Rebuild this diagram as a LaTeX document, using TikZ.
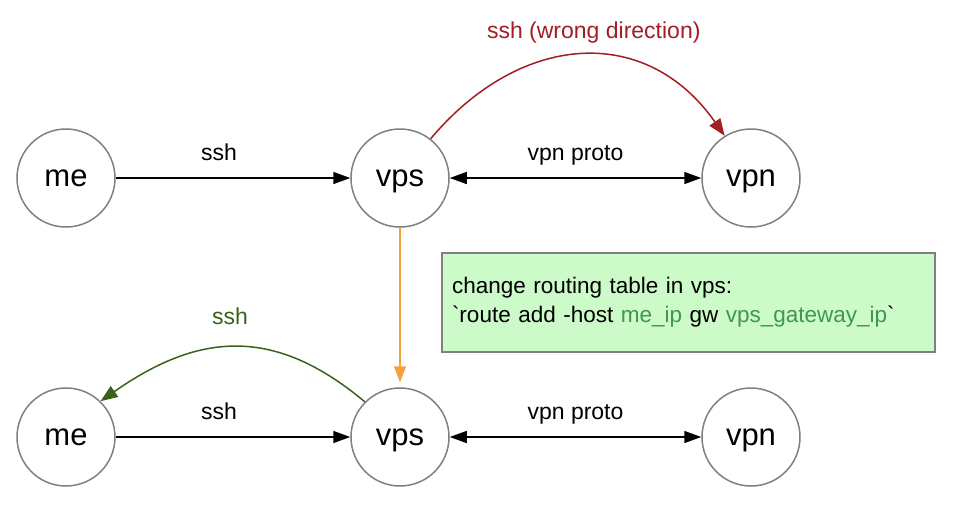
\documentclass[tikz,border=0pt]{standalone}
\usepackage{fontspec}
\setmainfont{Liberation Sans}[Ligatures=TeXOff]
\usepackage{tikz}
\usetikzlibrary{matrix,arrows.meta}
\definecolor{hostgray}{RGB}{128,128,128}
\definecolor{wrongred}{RGB}{163,29,36}
\definecolor{backgreen}{RGB}{56,99,24}
\definecolor{routeorange}{RGB}{242,162,58}
\definecolor{notefill}{RGB}{204,250,200}
\definecolor{ipgreen}{RGB}{64,150,82}
\tikzset{
	host/.style={circle,draw=hostgray,line width=1.5pt,minimum size=98pt,inner sep=0pt,
		font=\fontsize{31}{37}\selectfont,text height=16pt,text depth=0pt,anchor=center},
	lbl/.style={font=\fontsize{23}{28}\selectfont,text depth=0pt},
	tip/.style={-{Triangle[length=17pt,width=12pt]}},
	bitip/.style={{Triangle[length=17pt,width=12pt]}-{Triangle[length=17pt,width=12pt]}},
	note/.style={rectangle,draw=hostgray,line width=1.5pt,fill=notefill,minimum width=493pt,
		minimum height=99pt,text width=473pt,inner sep=10pt,align=left,
		font=\fontsize{22.5}{29}\selectfont}
}

\begin{document}
\begin{tikzpicture}[x=1pt,y=-1pt]
	\useasboundingbox (0,0) rectangle (966,512);
	\matrix (m) [matrix of nodes,nodes={host},row sep=159.5pt,column sep=234.5pt,
		matrix anchor=m-1-1.center] at (66,178)
	{
		me &[0pt] vps &[17pt] vpn \\
		me & vps & vpn \\};
	\path[tip,line width=1.5pt]
	(m-1-1) edge node [lbl,above=13pt,pos=0.44] {ssh} (m-1-2)
	(m-2-1) edge node [lbl,above=13pt,pos=0.44] {ssh} (m-2-2);
	\path[bitip,line width=1.5pt]
	(m-1-2) edge node [lbl,above=13pt] {vpn proto} (m-1-3)
	(m-2-2) edge node [lbl,above=13pt] {vpn proto} (m-2-3);
	
	\draw[wrongred,line width=1.5pt,-{Triangle[length=17pt,width=13pt]}]
	(m-1-2.52) to[out=50,in=125,looseness=1.2]
	node [lbl,above=13pt,pos=0.54] {ssh (wrong direction)} (m-1-3.122);
	\draw[backgreen,line width=1.5pt,-{Triangle[length=17pt,width=13pt]}]
	(m-2-2.135) to[out=140,in=35,looseness=1.15]
	node [lbl,above=19pt,pos=0.52] {ssh} (m-2-1.46);
	\draw[routeorange,line width=1.5pt,-{Triangle[length=16pt,width=12pt]},shorten >=5pt]
	(m-1-2) -- (m-2-2);
	
	\node[note] (cmd) at (688.5,302.5)
	{change routing table in vps:\\`route add -host \textcolor{ipgreen}{me\_ip} gw \textcolor{ipgreen}{vps\_gateway\_ip}`};
\end{tikzpicture}
\end{document}
